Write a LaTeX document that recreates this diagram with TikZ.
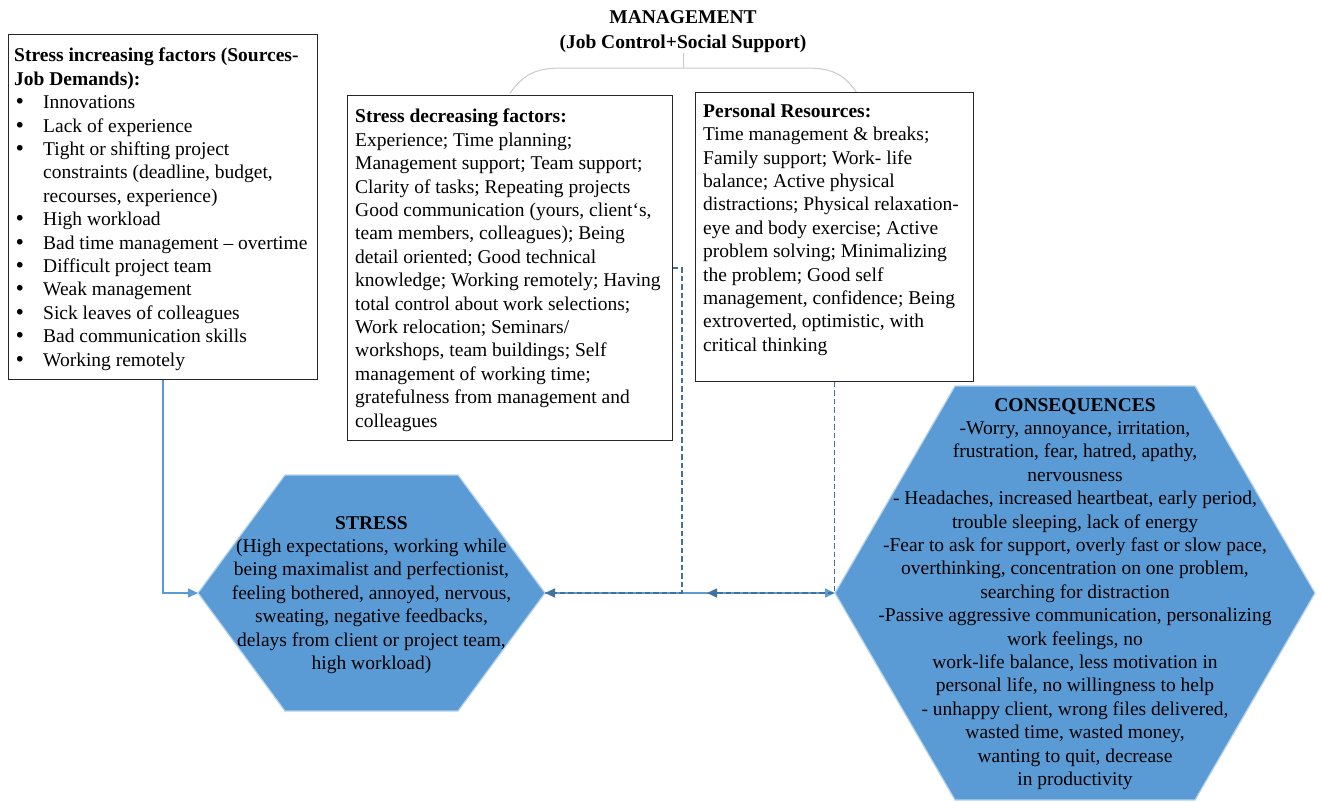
\documentclass[tikz,border=0pt]{standalone}
\usepackage{fontspec}
\setmainfont{Liberation Serif}
\newfontfamily\bulletfont{DejaVu Sans}
\usetikzlibrary{arrows.meta}
\definecolor{hexblue}{HTML}{5B9BD5}
\definecolor{dashblue}{HTML}{41719C}
\definecolor{bracegray}{HTML}{C9C9C9}
% bullet item and continuation indent for the list of stress sources
\newcommand{\bulletitem}{\hspace*{0pt}\makebox[29pt][l]{{\bulletfont •}}}
\newcommand{\contindent}{\hspace*{29pt}}
\begin{document}
\begin{tikzpicture}[x=1pt,y=-1pt,
  txt/.style={font=\fontsize{19.5}{23.4}\selectfont, inner sep=0pt},
  panel/.style={draw=black!85, line width=0.9pt, fill=white, inner sep=0pt},
  hexfill/.style={fill=hexblue, draw=hexblue!45!white, line width=1.2pt, line join=miter},
  tip/.style={-{Triangle[length=10pt,width=9pt]}},
  solidlink/.style={draw=hexblue, line width=1.4pt, tip},
  dashlink/.style={draw=dashblue, line width=1.3pt, dash pattern=on 5.5pt off 3pt, tip},
]
\useasboundingbox (0,0) rectangle (1321,801);

% management heading and its brace over the two lower boxes
\node[txt, align=center, font=\fontsize{19.5}{25}\selectfont\bfseries] (mgmt) at (683,31.5)
  {MANAGEMENT\\(Job Control+Social Support)};
\draw[bracegray, line width=1pt] (683,53) -- (683,68);
\draw[bracegray, line width=1pt]
  (510,93) .. controls (524,74) and (536,68) .. (562,68) -- (806,68)
  .. controls (832,68) and (844,74) .. (857,93);

% panels
\node[panel, minimum width=309pt, minimum height=345pt, anchor=north west] (inc) at (8,34) {};
\node[panel, minimum width=325pt, minimum height=345pt, anchor=north west] (dec) at (347,95) {};
\node[panel, minimum width=278pt, minimum height=289pt, anchor=north west] (pers) at (695,92) {};

\node[txt, align=left, anchor=north west] (inctext) at (14,48) {%
\textbf{Stress increasing factors (Sources-}\\
\textbf{Job Demands):}\\
\bulletitem Innovations\\
\bulletitem Lack of experience\\
\bulletitem Tight or shifting project\\
\contindent constraints (deadline, budget,\\
\contindent recourses, experience)\\
\bulletitem High workload\\
\bulletitem Bad time management \textendash{} overtime\\
\bulletitem Difficult project team\\
\bulletitem Weak management\\
\bulletitem Sick leaves of colleagues\\
\bulletitem Bad communication skills\\
\bulletitem Working remotely};

\node[txt, align=left, anchor=north west] (dectext) at (355,109) {%
\textbf{Stress decreasing factors:}\\
Experience; Time planning;\\
Management support; Team support;\\
Clarity of tasks; Repeating projects\\
Good communication (yours, client‘s,\\
team members, colleagues); Being\\
detail oriented; Good technical\\
knowledge; Working remotely; Having\\
total control about work selections;\\
Work relocation; Seminars/\\
workshops, team buildings; Self\\
management of working time;\\
gratefulness from management and\\
colleagues};

\node[txt, align=left, anchor=north west] (perstext) at (703,103.5) {%
\textbf{Personal Resources:}\\
Time management \& breaks;\\
Family support; Work- life\\
balance; Active physical\\
distractions; Physical relaxation-\\
eye and body exercise; Active\\
problem solving; Minimalizing\\
the problem; Good self\\
management, confidence; Being\\
extroverted, optimistic, with\\
critical thinking};

% hexagons
\coordinate (stressW) at (198,593);
\coordinate (stressE) at (545,593);
\coordinate (consW) at (835,593);
\coordinate (consE) at (1315,593);
\fill[hexfill] (stressW) -- (285,475) -- (458,475) -- (stressE) -- (458,711) -- (285,711) -- cycle;
\fill[hexfill] (consW) -- (955,386) -- (1195,386) -- (consE) -- (1195,800) -- (955,800) -- cycle;

\node[txt, align=center] (stress) at (371.5,595) {%
\textbf{STRESS}\\
(High expectations, working while\\
being maximalist and perfectionist,\\
feeling bothered, annoyed, nervous,\\
sweating, negative feedbacks,\\
delays from client or project team,\\
high workload)};

\node[txt, align=center] (cons) at (1075,594) {%
\textbf{CONSEQUENCES}\\
-Worry, annoyance, irritation,\\
frustration, fear, hatred, apathy,\\
nervousness\\
- Headaches, increased heartbeat, early period,\\
trouble sleeping, lack of energy\\
-Fear to ask for support, overly fast or slow pace,\\
overthinking, concentration on one problem,\\
searching for distraction\\
-Passive aggressive communication, personalizing\\
work feelings, no\\
work-life balance, less motivation in\\
personal life, no willingness to help\\
- unhappy client, wrong files delivered,\\
wasted time, wasted money,\\
wanting to quit, decrease\\
in productivity};

% connectors
\coordinate (persEnd) at (707,593);
\draw[solidlink] (inc.south) |- (stressW);
\draw[solidlink] (stressE) -- (consW);
\draw[dashlink] (dec.east) -- ++(9,0) |- (stressE);
\draw[dashlink] (pers.south) |- (persEnd);
\end{tikzpicture}
\end{document}
